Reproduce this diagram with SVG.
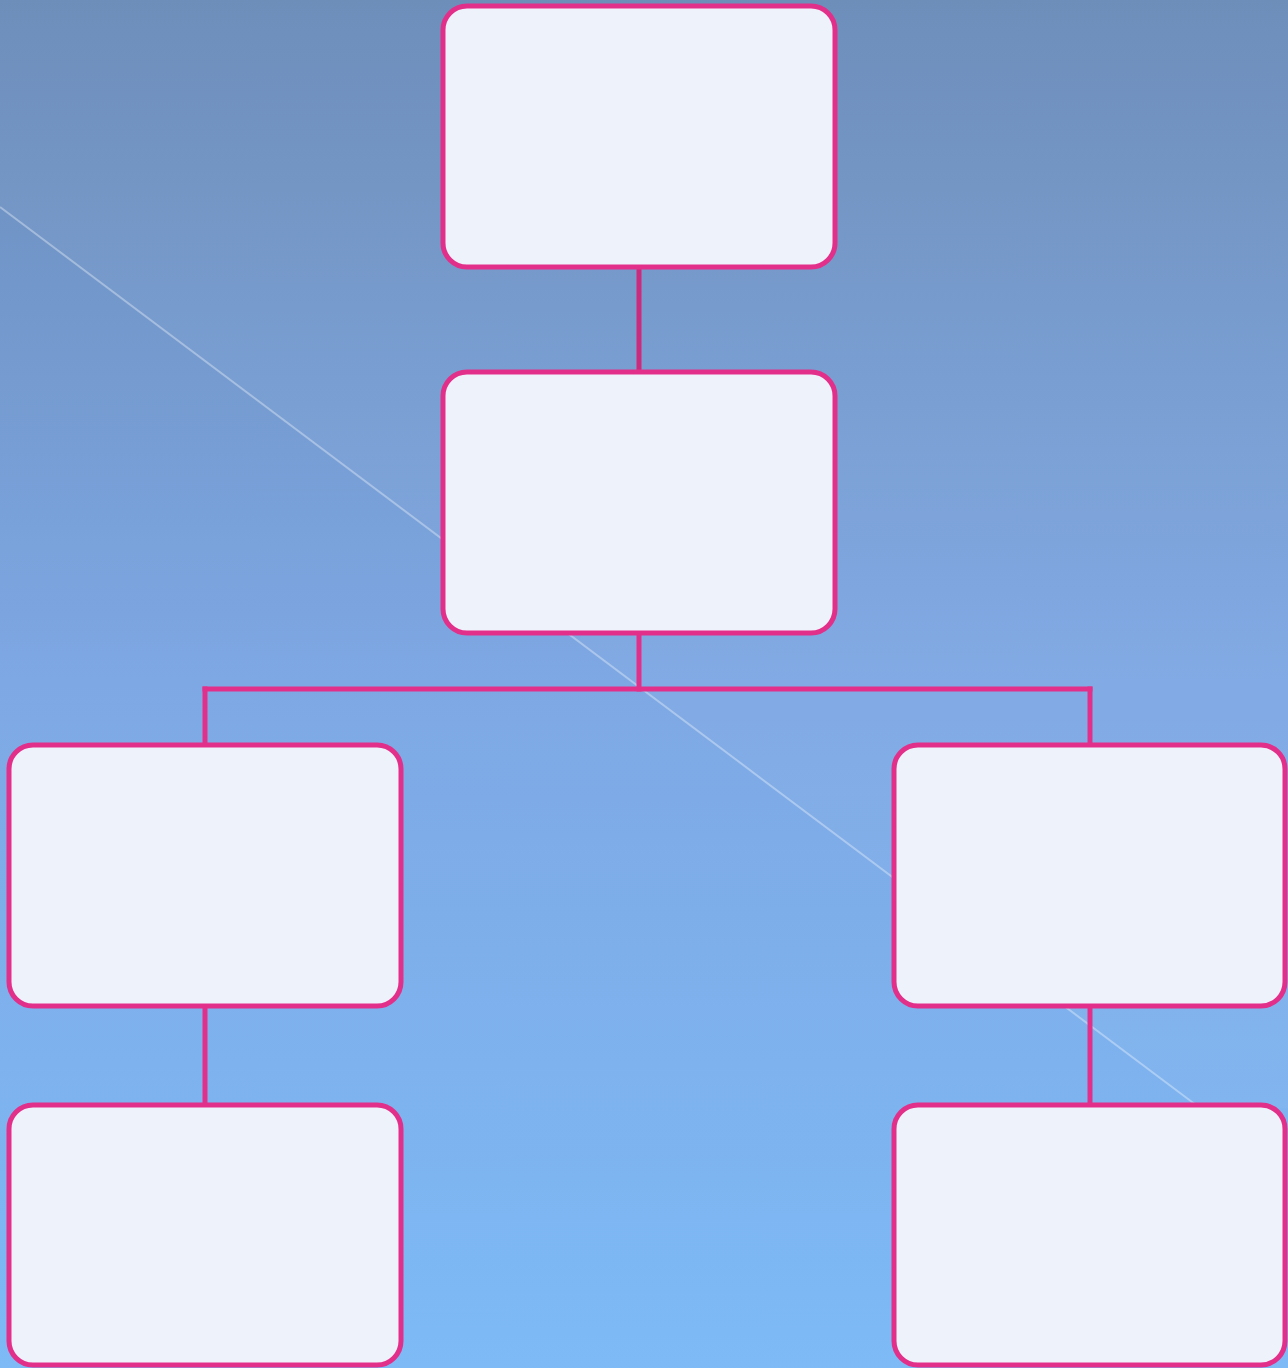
<svg xmlns="http://www.w3.org/2000/svg" width="1288" height="1368" viewBox="0 0 1288 1368">
<defs>
<linearGradient id="bg" x1="0" y1="0" x2="0" y2="1">
<stop offset="0" stop-color="#6a8bb8"/>
<stop offset="0.5" stop-color="#7ea8e4"/>
<stop offset="1" stop-color="#7dbaf6"/>
</linearGradient>
<style>
.node{fill:#eef2fa;stroke:#e2308a;stroke-width:5}
.conn{stroke:#e2308a;stroke-width:5;fill:none;stroke-linecap:square}
.conn.dark{stroke:#cc2a7c}
</style>
</defs>
<rect width="1288" height="1368" fill="url(#bg)"/>
<polygon points="0,207 1200,1108 1288,1108 1288,0 0,0" fill="#ffffff" fill-opacity="0.03"/>
<line x1="0" y1="207" x2="1200" y2="1108" stroke="#ffffff" stroke-opacity="0.35" stroke-width="2"/>
<g id="connectors">
<line class="conn dark" x1="639" y1="268" x2="639" y2="371"/>
<line class="conn" x1="639" y1="634" x2="639" y2="689"/>
<line class="conn" x1="205" y1="689" x2="1090" y2="689"/>
<line class="conn" x1="205" y1="689" x2="205" y2="744"/>
<line class="conn" x1="1090" y1="689" x2="1090" y2="744"/>
<line class="conn" x1="205" y1="1007" x2="205" y2="1104"/>
<line class="conn" x1="1090" y1="1007" x2="1090" y2="1104"/>
</g>
<g id="node-top"><rect class="node" x="443" y="6" width="392" height="261" rx="24"/></g>
<g id="node-mid"><rect class="node" x="443" y="372" width="392" height="261" rx="24"/></g>
<g id="node-left"><rect class="node" x="9" y="745" width="392" height="261" rx="24"/></g>
<g id="node-right"><rect class="node" x="894" y="745" width="391" height="261" rx="24"/></g>
<g id="node-left-bottom"><rect class="node" x="9" y="1105" width="392" height="260" rx="24"/></g>
<g id="node-right-bottom"><rect class="node" x="894" y="1105" width="391" height="260" rx="24"/></g>
</svg>
